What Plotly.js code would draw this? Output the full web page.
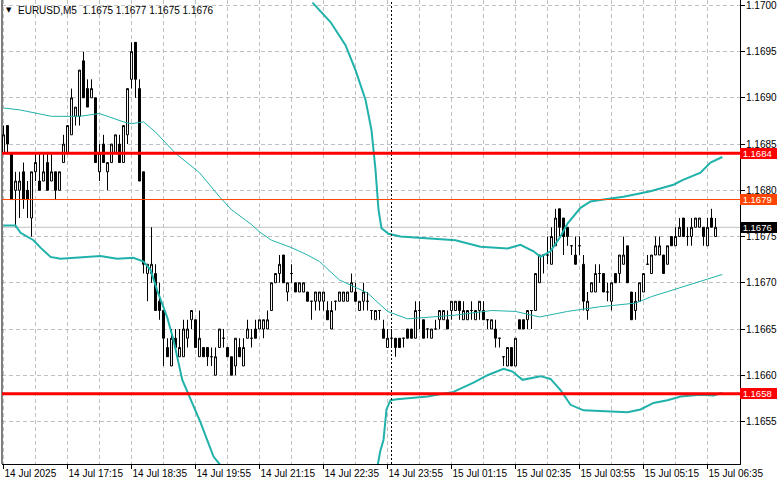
<!DOCTYPE html>
<html><head><meta charset="utf-8">
<script src="https://cdn.plot.ly/plotly-3.0.1.min.js"></script>
<style>html,body{margin:0;padding:0;background:#fff;}#chart{width:781px;height:489px;}</style>
</head><body><div id="chart"></div>
<script>
const symbolName = 'EURUSD,M5';
const firstBarTime = '2025-07-14T15:55';
const barMinutes = 5;

const openP = [1.1684,1.1687,1.1684,1.1680,1.1680,1.1682,1.1680,1.1677,1.1682,1.1681,
1.1681,1.1683,1.1681,1.1682,1.1680,1.1683,1.1684,1.1686,1.1688,1.1688,
1.1694,1.1691,1.1690,1.1690,1.1682,1.1685,1.1682,1.1683,1.1684,1.1685,
1.1683,1.1686,1.1692,1.1696,1.1691,1.1682,1.1671,1.1671,1.1671,1.1668,
1.1667,1.1663,1.1661,1.1664,1.1662,1.1662,1.1664,1.1666,1.1666,1.1662,
1.1663,1.1663,1.1662,1.1660,1.1663,1.1664,1.1663,1.1662,1.1661,1.1663,
1.1661,1.1664,1.1664,1.1665,1.1665,1.1665,1.1665,1.1667,1.1670,1.1671,
1.1673,1.1669,1.1671,1.1670,1.1669,1.1669,1.1669,1.1668,1.1668,1.1668,
1.1668,1.1667,1.1665,1.1668,1.1668,1.1668,1.1668,1.1669,1.1669,1.1667,
1.1668,1.1668,1.1667,1.1666,1.1667,1.1665,1.1663,1.1664,1.1664,1.1664,
1.1664,1.1665,1.1665,1.1664,1.1667,1.1666,1.1665,1.1664,1.1665,1.1666,
1.1666,1.1666,1.1667,1.1667,1.1668,1.1666,1.1666,1.1667,1.1666,1.1667,
1.1667,1.1666,1.1665,1.1665,1.1664,1.1662,1.1661,1.1663,1.1661,1.1666,
1.1666,1.1666,1.1667,1.1667,1.1670,1.1673,1.1673,1.1672,1.1674,1.1678,
1.1677,1.1676,1.1674,1.1673,1.1674,1.1672,1.1667,1.1669,1.1669,1.1671,
1.1671,1.1669,1.1668,1.1671,1.1671,1.1672,1.1674,1.1669,1.1667,1.1668,
1.1669,1.1672,1.1671,1.1673,1.1673,1.1673,1.1672,1.1675,1.1674,1.1675,
1.1677,1.1675,1.1675,1.1676,1.1676,1.1676,1.1674,1.1677,1.1675];
const highP = [1.1687,1.1687,1.1684,1.1682,1.1682,1.1683,1.1681,1.1682,1.1684,1.1684,
1.1684,1.1684,1.1684,1.1682,1.1682,1.1686,1.1687,1.1691,1.1689,1.1693,
1.1695,1.1692,1.1692,1.1690,1.1685,1.1686,1.1683,1.1685,1.1686,1.1686,
1.1687,1.1691,1.1696,1.1696,1.1692,1.1682,1.1672,1.1676,1.1672,1.1670,
1.1667,1.1664,1.1665,1.1665,1.1665,1.1666,1.1666,1.1667,1.1666,1.1667,
1.1663,1.1663,1.1663,1.1663,1.1665,1.1665,1.1663,1.1662,1.1664,1.1664,
1.1664,1.1666,1.1665,1.1666,1.1666,1.1666,1.1667,1.1670,1.1671,1.1673,
1.1673,1.1670,1.1672,1.1670,1.1670,1.1670,1.1669,1.1668,1.1669,1.1669,
1.1669,1.1668,1.1668,1.1668,1.1669,1.1669,1.1669,1.1671,1.1670,1.1668,
1.1670,1.1669,1.1667,1.1667,1.1667,1.1666,1.1665,1.1665,1.1664,1.1664,
1.1664,1.1665,1.1665,1.1668,1.1668,1.1666,1.1665,1.1665,1.1666,1.1667,
1.1667,1.1667,1.1668,1.1668,1.1668,1.1668,1.1667,1.1668,1.1667,1.1668,
1.1668,1.1666,1.1666,1.1666,1.1664,1.1662,1.1663,1.1663,1.1664,1.1666,
1.1666,1.1667,1.1667,1.1671,1.1673,1.1673,1.1675,1.1676,1.1678,1.1678,
1.1677,1.1676,1.1674,1.1675,1.1675,1.1673,1.1669,1.1670,1.1672,1.1672,
1.1671,1.1670,1.1670,1.1671,1.1673,1.1675,1.1674,1.1669,1.1669,1.1670,
1.1671,1.1673,1.1673,1.1675,1.1675,1.1673,1.1674,1.1675,1.1676,1.1677,
1.1677,1.1676,1.1677,1.1677,1.1677,1.1676,1.1677,1.1678,1.1677];
const lowP = [1.1684,1.1684,1.1679,1.1676,1.1677,1.1678,1.1677,1.1675,1.1681,1.1680,
1.1681,1.1680,1.1681,1.1679,1.1680,1.1683,1.1684,1.1686,1.1687,1.1687,
1.1690,1.1689,1.1690,1.1683,1.1681,1.1683,1.1680,1.1683,1.1684,1.1683,
1.1683,1.1685,1.1691,1.1690,1.1681,1.1671,1.1668,1.1670,1.1667,1.1666,
1.1661,1.1662,1.1661,1.1663,1.1662,1.1662,1.1663,1.1665,1.1663,1.1662,
1.1662,1.1661,1.1661,1.1660,1.1663,1.1663,1.1662,1.1660,1.1660,1.1662,
1.1661,1.1664,1.1663,1.1664,1.1665,1.1664,1.1665,1.1667,1.1670,1.1670,
1.1670,1.1668,1.1670,1.1669,1.1669,1.1669,1.1668,1.1666,1.1667,1.1667,
1.1667,1.1666,1.1665,1.1667,1.1668,1.1668,1.1668,1.1669,1.1668,1.1667,
1.1667,1.1667,1.1666,1.1666,1.1666,1.1664,1.1663,1.1663,1.1662,1.1663,
1.1663,1.1664,1.1664,1.1664,1.1665,1.1664,1.1664,1.1664,1.1665,1.1665,
1.1666,1.1665,1.1666,1.1667,1.1666,1.1666,1.1666,1.1666,1.1666,1.1666,
1.1666,1.1665,1.1665,1.1663,1.1663,1.1661,1.1661,1.1661,1.1661,1.1665,
1.1665,1.1665,1.1665,1.1667,1.1670,1.1671,1.1672,1.1672,1.1674,1.1675,
1.1673,1.1674,1.1673,1.1672,1.1673,1.1667,1.1666,1.1669,1.1669,1.1670,
1.1669,1.1668,1.1667,1.1670,1.1670,1.1672,1.1670,1.1666,1.1666,1.1668,
1.1669,1.1672,1.1671,1.1673,1.1673,1.1671,1.1672,1.1674,1.1674,1.1675,
1.1675,1.1674,1.1674,1.1676,1.1676,1.1674,1.1674,1.1676,1.1675];
const closeP = [1.1686,1.1685,1.1679,1.1681,1.1681,1.1679,1.1679,1.1682,1.1683,1.1680,
1.1682,1.1680,1.1682,1.1680,1.1682,1.1685,1.1687,1.1690,1.1689,1.1693,
1.1690,1.1689,1.1691,1.1683,1.1684,1.1683,1.1683,1.1685,1.1686,1.1683,
1.1687,1.1691,1.1695,1.1692,1.1681,1.1672,1.1672,1.1672,1.1667,1.1667,
1.1664,1.1662,1.1664,1.1663,1.1663,1.1665,1.1665,1.1667,1.1663,1.1664,
1.1662,1.1662,1.1662,1.1662,1.1665,1.1664,1.1662,1.1660,1.1664,1.1662,
1.1663,1.1665,1.1664,1.1664,1.1666,1.1666,1.1666,1.1670,1.1671,1.1672,
1.1670,1.1670,1.1671,1.1669,1.1670,1.1670,1.1668,1.1668,1.1669,1.1669,
1.1669,1.1666,1.1667,1.1668,1.1669,1.1669,1.1669,1.1670,1.1668,1.1668,
1.1669,1.1668,1.1667,1.1667,1.1667,1.1664,1.1664,1.1664,1.1663,1.1663,
1.1664,1.1664,1.1664,1.1667,1.1667,1.1664,1.1665,1.1665,1.1665,1.1667,
1.1667,1.1665,1.1668,1.1668,1.1667,1.1667,1.1667,1.1667,1.1667,1.1668,
1.1666,1.1666,1.1666,1.1664,1.1664,1.1662,1.1663,1.1661,1.1664,1.1665,
1.1665,1.1667,1.1667,1.1671,1.1673,1.1673,1.1673,1.1675,1.1677,1.1676,
1.1675,1.1675,1.1674,1.1672,1.1674,1.1668,1.1668,1.1670,1.1671,1.1671,
1.1669,1.1669,1.1670,1.1670,1.1673,1.1673,1.1670,1.1666,1.1668,1.1670,
1.1671,1.1672,1.1673,1.1674,1.1674,1.1671,1.1674,1.1674,1.1675,1.1676,
1.1675,1.1675,1.1676,1.1677,1.1677,1.1675,1.1676,1.1676,1.1676];

const midBar = [0,4,12,19,24,30,32,35,38,40,43,49,54,57,62,64,67,72,76,79,84,91,96,101,106,113,122,128,134,141,149,158,162,170,179.7];
const midVal = [1.16889,1.16887,1.16880,1.16880,1.16883,1.16874,1.16872,1.16874,1.16863,1.16854,1.16840,1.16819,1.16793,1.16779,1.16763,1.16755,1.16746,1.16738,1.16730,1.16723,1.16703,1.16689,1.16669,1.16661,1.16663,1.16665,1.16670,1.16669,1.16663,1.16669,1.16674,1.16678,1.16685,1.16696,1.16709];
const upperBar = [77.25,81.75,85.5,88,90.5,92,93,93.75,94.5,96.25,99.25,113,119.25,126,129.25,132.5,134.25,136.75,139.25,141,144.25,146.75,150,155,161.75,167.5,169.75,174.25,176.75,179.7];
const upperVal = [1.17003,1.16982,1.16957,1.16930,1.16898,1.16865,1.16822,1.16779,1.16759,1.16753,1.16750,1.16746,1.16739,1.16737,1.16741,1.16734,1.16728,1.16734,1.16750,1.16764,1.16781,1.16788,1.16790,1.16793,1.16799,1.16806,1.16811,1.16819,1.16830,1.16836];
const lowerBar = [0,3,4.25,7.5,9.25,11.75,14.25,20,24.25,28.4,32.5,35,36.75,38.4,40.9,42.5,44.7,49.25,52.5,54,55.5,null,
93.25,93.6,94.25,95,95.75,96.75,98.4,106,112.5,117.5,121,125,127.25,129.75,134.25,136.75,139.25,141.75,145,149.25,156,159.25,162.5,166,169.25,174.25,177.5,179.7];
const lowerVal = [1.16762,1.16762,1.16754,1.16746,1.16738,1.16728,1.16726,1.16728,1.16729,1.16726,1.16727,1.16723,1.16714,1.16692,1.16663,1.16638,1.16595,1.16549,1.16512,1.16504,1.16487,null,
1.16487,1.16504,1.16519,1.16530,1.16563,1.16573,1.16574,1.16577,1.16582,1.16592,1.16600,1.16607,1.16604,1.16595,1.16599,1.16596,1.16584,1.16568,1.16562,1.16561,1.16560,1.16563,1.16570,1.16573,1.16577,1.16579,1.16578,1.16581];

const xTickLabels = ['14 Jul 2025','14 Jul 17:15','14 Jul 18:35','14 Jul 19:55','14 Jul 21:15','14 Jul 22:35','14 Jul 23:55','15 Jul 01:15','15 Jul 02:35','15 Jul 03:55','15 Jul 05:15','15 Jul 06:35'];
const yTickLabels = ['1.1655','1.1660','1.1665','1.1670','1.1675','1.1680','1.1685','1.1690','1.1695','1.1700'];
const levelPrices = [1.1684, 1.1679, 1.1658];
const levelColors = ['#FF0000', '#FF4500', '#FF0000'];
const levelWidths = [3, 1, 3];

// ---------- build ----------
const n = closeP.length;
const xs = Array.from({length:n}, (_, i) => i);
const labelEvery = 16, gridEvery = 8;
const tickBars = xTickLabels.map((_, k) => k * labelEvery);
const minorBars = [];
for (let b = gridEvery; b < n + 8; b += labelEvery) minorBars.push(b);

// day separator: first bar of a new day
const t0 = new Date(firstBarTime + ':00Z').getTime();
let sepBar = null;
for (let i = 1; i < n; i++) {
  const d0 = new Date(t0 + (i - 1) * barMinutes * 60000).getUTCDate();
  const d1 = new Date(t0 + i * barMinutes * 60000).getUTCDate();
  if (d1 !== d0) { sepBar = i; break; }
}

const bandColor = '#20B2AA';
const FONT = 'Liberation Sans, Arial, sans-serif';

const traces = [
  {type:'candlestick', x: xs, open: openP, high: highP, low: lowP, close: closeP,
   increasing:{line:{color:'#000000', width:1}, fillcolor:'#FFFFFF'},
   decreasing:{line:{color:'#000000', width:1}, fillcolor:'#000000'},
   whiskerwidth:0, hoverinfo:'skip', showlegend:false},
  {type:'scatter', mode:'lines', x: midBar, y: midVal, line:{color:bandColor, width:1}, hoverinfo:'skip', showlegend:false},
  {type:'scatter', mode:'lines', x: upperBar, y: upperVal, line:{color:bandColor, width:2}, hoverinfo:'skip', showlegend:false, connectgaps:false},
  {type:'scatter', mode:'lines', x: lowerBar, y: lowerVal, line:{color:bandColor, width:2}, hoverinfo:'skip', showlegend:false, connectgaps:false}
];

const yTickVals = yTickLabels.map(Number);
const shapes = [];
// left border
shapes.push({type:'line', xref:'paper', yref:'paper', x0:0, x1:0, y0:0, y1:1, line:{color:'#000', width:1}});
// bid line
const bid = closeP[n-1];
shapes.push({type:'line', xref:'paper', yref:'y', x0:0, x1:1, y0:bid, y1:bid, line:{color:'#C0C0C0', width:1}, layer:'below'});
// day separator
if (sepBar !== null) shapes.push({type:'line', xref:'x', yref:'paper', x0:sepBar, x1:sepBar, y0:0, y1:1, line:{color:'#000', width:1, dash:'2px,2px'}});
// levels
levelPrices.forEach((p, k) => shapes.push({type:'line', xref:'paper', yref:'y', x0:0, x1:1, y0:p, y1:p, line:{color:levelColors[k], width:levelWidths[k]}}));

const annotations = [];
const boxes = levelPrices.map((p, k) => ({p, c: levelColors[k]})).concat([{p: bid, c:'#000000'}]);
boxes.forEach(b => annotations.push({xref:'paper', yref:'y', x:1, y:b.p, xanchor:'left', yanchor:'middle',
  text:'\u00a0' + b.p.toFixed(4) + '\u00a0\u00a0', showarrow:false, bgcolor:b.c, borderpad:0, borderwidth:0,
  font:{family:FONT, size:9.5, color:'#FFFFFF'}}));
// header
annotations.push({xref:'paper', yref:'paper', x:(9-2)/738, y:1-10/464, xanchor:'center', yanchor:'middle', showarrow:false,
  text:'\u25BC', font:{family:'DejaVu Sans', size:7, color:'#000'}});
const hdr = symbolName + '\u00a0\u00a0' + [openP[n-1], highP[n-1], lowP[n-1], closeP[n-1]].map(v => v.toFixed(4)).join(' ');
annotations.push({xref:'paper', yref:'paper', x:(16-2)/738, y:1-10/464, xanchor:'left', yanchor:'middle', showarrow:false,
  text: hdr, font:{family:FONT, size:10, color:'#000'}});

const layout = {
  width:781, height:489,
  margin:{l:2, r:41, t:0, b:25, pad:0},
  paper_bgcolor:'#FFFFFF', plot_bgcolor:'#FFFFFF',
  showlegend:false, hovermode:false, dragmode:false,
  xaxis:{type:'linear', range:[-0.375, 184.125], rangeslider:{visible:false}, fixedrange:true,
    tickmode:'array', tickvals: tickBars, ticktext: xTickLabels,
    ticks:'outside', ticklen:4, tickcolor:'#000', tickwidth:1,
    ticklabelposition:'outside right', ticklabeloverflow:'allow',
    showgrid:true, gridcolor:'#C0C0C0', griddash:'4px,3px', gridwidth:1,
    minor:{tickmode:'array', tickvals:minorBars, showgrid:true, gridcolor:'#C0C0C0', griddash:'4px,3px', ticks:''},
    showline:true, linecolor:'#000', linewidth:1, zeroline:false,
    tickfont:{family:FONT, size:10, color:'#000'}},
  yaxis:{range:[1.16504, 1.170058], side:'right', fixedrange:true,
    tickmode:'array', tickvals: yTickVals, ticktext: yTickLabels,
    ticks:'outside', ticklen:4, tickcolor:'#000', tickwidth:1,
    ticklabeloverflow:'allow', ticklabelstandoff:-1,
    showgrid:true, gridcolor:'#C0C0C0', griddash:'4px,3px', gridwidth:1,
    showline:true, linecolor:'#000', linewidth:1, zeroline:false,
    tickfont:{family:FONT, size:10, color:'#000'}},
  shapes, annotations
};
Plotly.newPlot('chart', traces, layout, {staticPlot:true, displayModeBar:false});
</script></body></html>
